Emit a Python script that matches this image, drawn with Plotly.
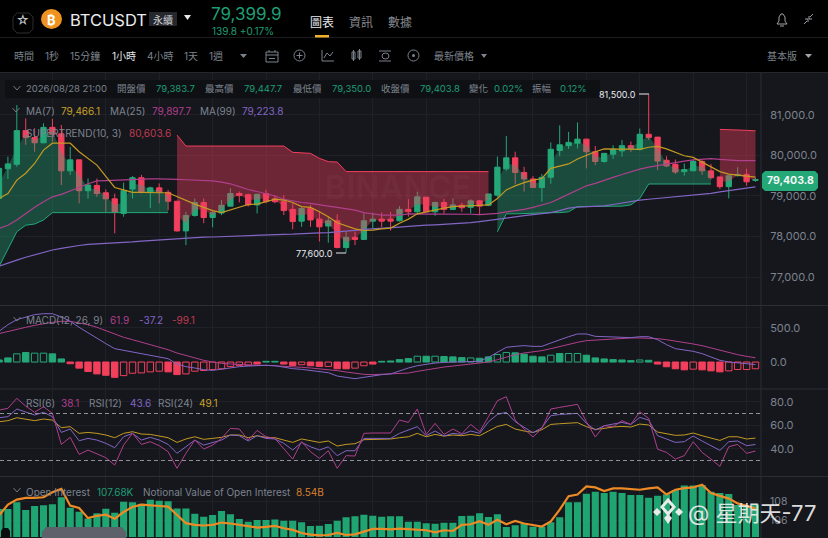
import plotly.graph_objects as go

W, H = 828, 538
# ---------- candles (1h BTCUSDT) ----------
opens = [78940,79670,79780,80610,80440,80310,80690,80530,79620,79890,79130,79260,79080,78930,78570,79170,79450,79090,79200,79090,
         78870,78140,78520,78840,78470,78580,78750,79060,79030,78780,79060,78930,78860,78670,78380,78690,78430,78260,78390,77730,
         77980,77930,78380,78430,78430,78390,78670,78610,78970,78610,78840,78670,78770,78720,78880,78770,79020,79670,79940,79580,
         79420,79210,79460,80120,80240,80300,80400,80090,79850,80030,80110,80240,80150,80520,80450,79880,79780,79600,79620,79850,
         79620,79470,79230,79500,79530,79383.7]
highs = [79700,79970,81240,80910,80670,80790,80900,80750,80210,79890,79430,79430,79160,79060,79330,79490,79520,79230,79310,79150,
         78880,78610,78940,78940,78650,78900,79190,79110,79060,79060,79150,79020,79020,78820,78740,78780,78610,78490,78550,78120,
         78120,78570,78590,78590,78610,78750,78920,79100,78980,78860,78930,78940,78830,78920,78900,79050,79970,80480,80090,79720,
         79490,79540,80320,80740,80580,80810,80410,80230,80060,80250,80380,80340,80660,81500,80450,79980,79900,79800,79890,79890,
         79790,79470,79500,79710,79670,79447.7]
lows = [78900,79420,79720,80260,80090,80300,80340,79270,79520,78820,78930,78980,78610,78080,78490,78940,79060,78700,78820,78650,
        78120,77790,78490,78330,78230,78530,78740,78840,78740,78570,78820,78820,78530,78180,78240,78240,77880,77850,77710,77600,
        77790,77920,78200,78230,78150,78370,78490,78570,78610,78510,78570,78650,78610,78570,78530,78750,78980,79620,79290,79110,
        79210,78860,79300,79980,80160,80170,79680,79760,79820,79910,79970,80080,80120,80380,79640,79710,79540,79500,79620,79520,
        79410,79170,78940,79480,79250,79350.0]
closes = [79680,79790,80610,80440,80310,80690,80520,79620,79890,79130,79270,79060,78930,78600,79130,79450,79090,79200,79090,78870,
          78140,78520,78840,78470,78590,78770,79060,79010,78780,79040,78860,78860,78640,78370,78690,78410,78240,78390,77730,77980,
          77930,78390,78430,78380,78380,78670,78610,78980,78610,78840,78670,78780,78710,78880,78750,79050,79710,79940,79580,79420,
          79210,79460,80150,80260,80320,80400,80090,79850,80050,80150,80240,80170,80520,80440,79860,79740,79590,79650,79850,79620,
          79450,79230,79500,79530,79350,79403.8]
ma7 = [78940,79060,79390,79560,79800,80130,80300,80300,80300,80090,79930,79760,79480,79210,79150,79090,79090,79080,79080,79080,
       78980,78880,78800,78720,78640,78590,78660,78720,78790,78800,78860,78920,78900,78840,78740,78720,78610,78490,78340,78260,
       78190,78150,78160,78190,78210,78330,78430,78560,78610,78650,78700,78740,78750,78750,78770,78780,78940,79150,79250,79330,
       79390,79430,79680,79740,79790,79910,80010,80090,80160,80160,80150,80150,80150,80200,80220,80160,80070,79990,79950,79830,
       79710,79600,79540,79520,79500,79466.1]
ma25 = [78200,78280,78410,78570,78720,78860,78980,79040,79120,79210,79300,79370,79380,79390,79400,79410,79410,79420,79420,79420,
        79410,79400,79390,79380,79370,79340,79300,79230,79160,79110,79050,79000,78920,78880,78840,78820,78780,78750,78720,78680,
        78650,78590,78560,78530,78530,78530,78560,78560,78560,78560,78550,78550,78550,78550,78540,78550,78570,78610,78640,78670,
        78720,78780,78840,78940,79050,79160,79250,79310,79390,79460,79530,79600,79660,79710,79750,79790,79830,79860,79890,79910,
        79920,79900,79880,79870,79870,79870]
ma99 = [77270,77350,77420,77490,77550,77610,77670,77710,77750,77780,77810,77820,77830,77835,77850,77870,77890,77905,77925,77940,
        77955,77970,77980,77985,77990,78000,78010,78020,78030,78035,78040,78050,78055,78060,78065,78075,78090,78100,78115,78135,
        78155,78180,78190,78205,78220,78235,78250,78270,78280,78290,78300,78315,78330,78345,78370,78395,78425,78455,78485,78515,
        78540,78565,78590,78640,78700,78725,78735,78745,78755,78790,78830,78865,78900,78920,78940,78960,78985,79005,79025,79045,
        79065,79100,79130,79160,79190,79223.8]
supertrend = [77260,77710,78120,78280,78310,78410]+[78590]*14+[80500]+[80230]*12+[80075,80070,80050,79927,79845,79837]+[79600]*17+\
             [78120,78560,78560,78570,78570,78580,78590,78590,78610,78740,78745,78750,78750,78750,78750,78780,78940]+[79295]*8+\
             [80640,80626,80626,80617,80603.6]
# up-trend / down-trend runs of the SuperTrend: (first, last, direction)
st_runs = [(0,19,"up"),(20,55,"down"),(56,80,"up"),(81,85,"down")]

# ---------- MACD ----------
macd_hist = [30,60,120,140,130,130,120,45,-25,-90,-140,-175,-195,-225,-200,-165,-160,-145,-135,-145,-185,-175,-135,-125,-110,-100,
             -65,-50,-50,-30,10,10,-30,-50,-40,-55,-65,-65,-100,-100,-90,-55,-30,10,15,35,50,85,85,85,80,75,65,60,55,75,110,140,
             135,115,85,75,100,125,125,125,100,60,45,35,30,20,30,25,-30,-70,-100,-115,-105,-115,-130,-145,-130,-110,-110,-99.1]
macd_hollow = [2,4,5,14,15,16,17,18,21,22,23,24,25,26,27,28,34,37,40,41,47,49,53,56,57,62,64,65,72,78,82,83,84,85]
macd_dif = [451,549,622,662,696,710,710,662,598,510,426,353,270,196,172,147,123,108,83,49,-29,-69,-88,-113,-123,-103,-88,-69,-59,-49,
            -49,-54,-78,-98,-108,-127,-137,-157,-206,-225,-245,-225,-201,-186,-176,-127,-88,-54,-29,-15,-5,0,-5,0,10,69,147,216,230,
            240,230,230,279,328,372,412,412,377,368,368,363,358,372,372,328,255,196,181,157,123,74,25,0,-15,-25,-37.2]
macd_dea = [417,451,485,510,539,564,583,598,598,573,549,510,461,412,363,328,294,255,216,181,132,93,59,25,0,-20,-29,-39,-44,-49,-49,-54,
            -59,-69,-78,-88,-98,-108,-127,-147,-167,-181,-186,-181,-176,-172,-162,-137,-113,-88,-74,-59,-44,-29,-20,0,34,74,108,132,
            147,167,196,230,265,289,314,323,333,343,353,353,353,353,343,328,309,289,265,240,206,172,137,108,83,61.9]

# ---------- RSI ----------
rsi6 = [72.9,74.4,82.9,76.3,71.0,75.8,70.1,43.7,49.7,35.2,38.9,35.5,32.4,26.1,43.1,53.1,43.7,46.0,42.6,37.5,23.3,36.1,47.4,39.7,43.1,
        48.8,57.3,56.8,47.4,55.6,50.2,48.8,40.3,31.2,46.0,37.5,31.8,38.3,23.3,34.1,33.8,53.1,53.4,53.4,53.4,64.4,62.4,73.8,52.2,61.6,
        52.2,56.8,52.8,60.7,54.5,67.3,80.9,84.3,64.4,56.8,50.0,57.3,73.8,75.2,76.6,77.8,63.0,50.0,59.6,58.8,63.9,60.7,71.5,65.8,39.7,
        36.9,31.2,34.1,46.0,36.9,31.2,25.0,41.7,43.7,36.1,38.1]
rsi12 = [66.4,67.3,73.8,71.0,68.7,71.0,67.3,53.9,56.8,46.8,48.8,47.4,44.6,40.9,50.2,53.1,47.4,49.7,47.4,43.7,36.1,41.7,47.4,43.1,45.4,
         47.4,51.7,51.1,46.6,51.1,48.8,48.3,44.6,38.9,45.4,41.7,38.9,41.7,34.1,38.3,38.3,48.8,48.8,48.8,48.8,53.1,55.9,58.8,51.1,55.1,
         50.8,53.1,52.2,55.1,53.1,63.0,69.2,71.0,63.0,58.2,53.6,57.9,68.1,69.2,69.5,70.1,61.6,55.9,59.6,60.7,62.4,60.7,66.7,64.4,51.1,
         48.3,45.4,46.0,50.8,46.6,42.6,38.6,46.0,46.6,42.6,43.6]
rsi24 = [63.0,63.9,66.4,65.3,63.9,65.3,64.4,57.9,58.8,53.1,53.9,53.1,51.7,49.4,53.1,54.5,52.5,52.2,51.1,49.4,45.4,48.3,50.2,48.0,48.8,
         49.7,51.7,51.7,49.4,51.1,49.7,49.4,47.4,45.4,48.3,46.6,45.4,46.6,42.3,43.7,44.3,47.7,48.0,48.0,48.3,49.4,50.2,53.1,50.2,52.2,
         50.8,51.7,51.1,52.2,51.1,55.1,59.0,60.7,56.8,55.1,53.9,56.2,60.7,61.3,61.6,62.2,58.8,56.5,57.3,58.5,59.0,58.5,61.0,60.2,54.2,
         52.8,51.4,51.7,53.4,51.1,49.4,47.1,50.2,50.2,48.3,49.1]

# ---------- Open interest (K) and notional value (B) ----------
oi = [107.2,107.2,107.93,107.09,107.53,107.6,107.71,108.47,107.35,106.91,106.18,106.73,107.24,106.8,108.0,107.93,107.78,108.22,108.11,
      108.04,107.27,107.27,106.69,106.36,106.55,106.98,106.62,106.11,105.82,106.0,106.0,106.07,105.93,105.93,105.75,105.35,105.38,105.56,
      105.93,106.29,106.4,106.58,106.47,106.36,106.4,106.4,105.82,105.82,105.64,105.6,105.71,105.71,106.44,106.47,106.73,106.33,106.62,
      105.24,105.42,105.64,105.27,105.27,105.75,106.29,107.93,107.93,108.87,109.09,108.95,109.09,108.95,108.73,108.73,108.44,108.65,108.8,
      109.27,109.75,109.75,109.82,109.09,108.95,108.84,107.64,107.45,107.68]
notional = [8.476,8.578,8.626,8.642,8.642,8.648,8.696,8.728,8.568,8.546,8.45,8.472,8.482,8.444,8.508,8.556,8.578,8.575,8.565,8.559,8.482,
            8.402,8.386,8.38,8.386,8.408,8.399,8.386,8.373,8.36,8.367,8.376,8.354,8.338,8.309,8.293,8.287,8.29,8.309,8.29,8.296,8.322,8.348,
            8.348,8.344,8.351,8.348,8.344,8.335,8.316,8.335,8.328,8.386,8.392,8.421,8.386,8.434,8.392,8.424,8.399,8.386,8.37,8.418,8.53,8.658,
            8.674,8.751,8.741,8.706,8.732,8.732,8.725,8.719,8.732,8.741,8.674,8.719,8.735,8.741,8.767,8.687,8.661,8.635,8.59,8.562,8.54]

price_ticks = [77000,78000,79000,80000,81000]
macd_ticks = [0,500]
rsi_ticks = [40,60,80]
rsi_guides = [70,30]
oi_ticks = [106,108]

N = len(opens)
for arr in (highs,lows,closes,ma7,ma25,ma99,supertrend,macd_hist,macd_dif,macd_dea,rsi6,rsi12,rsi24,oi,notional):
    assert len(arr) == N, len(arr)
idx = list(range(N))

GREEN, RED = "#24a878", "#f23f5c"
GOLD, PINK, PURPLE = "#c49a22", "#b03f8c", "#8465c4"
GRID, BORDER, BG, GREY = "#1e2127", "#2b2e35", "#15171d", "#7d838d"

def fx(p): return p / W
def fy(p): return 1 - p / H

fig = go.Figure()
# main pane
fig.add_trace(go.Candlestick(x=idx, open=opens, high=highs, low=lows, close=closes, xaxis="x", yaxis="y",
    increasing=dict(line=dict(color=GREEN, width=1), fillcolor=GREEN),
    decreasing=dict(line=dict(color=RED, width=1), fillcolor=RED), whiskerwidth=0, hoverinfo="skip"))
for a, b, d in st_runs:
    xs = idx[a:b+1]
    mid = [(opens[i]+closes[i])/2 for i in xs]
    st = supertrend[a:b+1]
    col = GREEN if d == "up" else RED
    fill = "rgba(36,168,120,0.36)" if d == "up" else "rgba(242,63,92,0.40)"
    fig.add_trace(go.Scatter(x=xs+xs[::-1], y=st+mid[::-1], mode="lines", fill="toself", fillcolor=fill,
                             line=dict(width=0), xaxis="x", yaxis="y", hoverinfo="skip"))
    fig.add_trace(go.Scatter(x=xs, y=st, mode="lines", line=dict(color=col, width=1), xaxis="x", yaxis="y", hoverinfo="skip"))
for vals, col in ((ma99, PURPLE), (ma25, PINK), (ma7, GOLD)):
    fig.add_trace(go.Scatter(x=idx, y=vals, mode="lines", line=dict(color=col, width=1.2), xaxis="x", yaxis="y", hoverinfo="skip"))
# MACD pane
bar_col = [GREEN if v > 0 else RED for v in macd_hist]
fill_col = ["rgba(0,0,0,0)" if i in macd_hollow else bar_col[i] for i in idx]
fig.add_trace(go.Bar(x=idx, y=macd_hist, width=0.72, marker=dict(color=fill_col, line=dict(color=bar_col, width=1)),
                     xaxis="x2", yaxis="y2", hoverinfo="skip"))
for vals, col in ((macd_dea, PINK), (macd_dif, PURPLE)):
    fig.add_trace(go.Scatter(x=idx, y=vals, mode="lines", line=dict(color=col, width=1), xaxis="x2", yaxis="y2", hoverinfo="skip"))
# RSI pane
for vals, col in ((rsi24, GOLD), (rsi12, PURPLE), (rsi6, PINK)):
    fig.add_trace(go.Scatter(x=idx, y=vals, mode="lines", line=dict(color=col, width=1), xaxis="x3", yaxis="y3", hoverinfo="skip"))
# Open interest pane
fig.add_trace(go.Bar(x=idx, y=oi, width=0.8, marker=dict(color="#1fa572", line=dict(width=0)), xaxis="x4", yaxis="y4", hoverinfo="skip"))
fig.add_trace(go.Scatter(x=idx, y=notional, mode="lines", line=dict(color="#ee8a26", width=2.2), xaxis="x4", yaxis="y5", hoverinfo="skip"))

shapes, ann = [], []
def line(x0, y0, x1, y1, col=BORDER, w=1, dash=None):
    shapes.append(dict(type="line", xref="paper", yref="paper", x0=fx(x0), y0=fy(y0), x1=fx(x1), y1=fy(y1),
                       line=dict(color=col, width=w, dash=dash or "solid")))
def rect(x0, y0, x1, y1, fill=None, col=None, w=1, layer="above"):
    shapes.append(dict(type="rect", xref="paper", yref="paper", x0=fx(x0), y0=fy(y0), x1=fx(x1), y1=fy(y1),
                       fillcolor=fill or "rgba(0,0,0,0)", line=dict(color=col or "rgba(0,0,0,0)", width=w), layer=layer))
def circle(x0, y0, x1, y1, fill=None, col=None, w=1):
    shapes.append(dict(type="circle", xref="paper", yref="paper", x0=fx(x0), y0=fy(y0), x1=fx(x1), y1=fy(y1),
                       fillcolor=fill or "rgba(0,0,0,0)", line=dict(color=col or "rgba(0,0,0,0)", width=w)))
def path(pts, fill=None, col=None, w=1, close=False, layer="above"):
    d = "M " + " L ".join(f"{fx(x):.5f} {fy(y):.5f}" for x, y in pts) + (" Z" if close else "")
    shapes.append(dict(type="path", xref="paper", yref="paper", path=d, fillcolor=fill or "rgba(0,0,0,0)",
                       line=dict(color=col or "rgba(0,0,0,0)", width=w), layer=layer))
def T(x, y, s, col=GREY, size=10, anchor="left", weight=None):
    txt = f"<b>{s}</b>" if weight else s
    shift = {"left": -2, "right": 2}.get(anchor, 0)
    ann.append(dict(xref="paper", yref="paper", x=fx(x), y=fy(y), text=txt, showarrow=False, xanchor=anchor, yanchor="middle",
                    xshift=shift, font=dict(color=col, size=size), align="left"))

# header / toolbar backdrop and separators
rect(0, 0, W, 73, fill="#000000", layer="below")
line(0, 37.5, W, 37.5, col="#1c1c1e")
line(0, 72.5, W, 72.5, col="#26272b")
line(761, 73, 761, H)
line(0, 305.5, W, 305.5); line(0, 389, W, 389); line(0, 476.5, W, 476.5)

# header
path([(17,13),(29,13),(33,17),(33,29),(29,33),(17,33),(13,29),(13,17)], col="#2e2e30", close=True)
T(23, 20, "☆", "#c4c7cc", 13, "center")
circle(41, 9, 62, 29, fill="#f0921e")
T(51.5, 19.5, "₿", "#ffffff", 13, "center", True)
T(70, 20, "BTCUSDT", "#e9ebee", 16.5)
rect(149, 12, 177, 26, fill="#25272c")
T(163, 19.5, "永續", "#d4d6da", 10, "center")
path([(184,15),(191,15),(187.5,20)], fill="#e6e8ea", close=True)
T(211, 14, "79,399.9", "#1f9e74", 17)
T(212, 31, "139.8 +0.17%", "#1f9e74", 10)
T(322, 22, "圖表", "#e8eaec", 12, "center")
T(361, 22, "資訊", "#85898f", 12, "center")
T(400, 22, "數據", "#85898f", 12, "center")
rect(315, 35, 329, 37.5, fill="#efb12c")
# bell & collapse
path([(777,24),(779,21),(779,17),(781,14),(783,14),(785,17),(785,21),(787,24)], col="#9ea2a8", close=True)
path([(780,26),(784,26)], col="#9ea2a8")
path([(804,24),(807,21)], col="#9ea2a8"); path([(810,17),(813,14)], col="#9ea2a8")
path([(805,19),(808,19),(808,22)], col="#9ea2a8"); path([(809,16),(809,19),(812,19)], col="#9ea2a8")

# toolbar
T(14, 56, "時間"); T(45, 56, "1秒"); T(70, 56, "15分鐘"); T(112, 56, "1小時", "#e6e8ea")
T(147, 56, "4小時"); T(184, 56, "1天"); T(209, 56, "1週")
path([(240,54),(247,54),(243.5,58)], fill=GREY, close=True)
rect(266, 52, 278, 62, col=GREY)
path([(266,55),(278,55)], col=GREY); path([(269,50),(269,52)], col=GREY); path([(275,50),(275,52)], col=GREY)
path([(269,58.5),(275,58.5)], col=GREY)
circle(294, 50, 305, 61, col=GREY); path([(299.5,52.5),(299.5,58.5)], col=GREY); path([(296.5,55.5),(302.5,55.5)], col=GREY)
path([(322,50),(322,61),(334,61)], col=GREY); path([(324,58),(327,53),(330,56),(333,52)], col=GREY)
rect(352, 52, 355, 59, col=GREY); rect(358, 51, 361, 58, col=GREY)
path([(353.5,50),(353.5,61)], col=GREY); path([(359.5,49),(359.5,60)], col=GREY)
path([(379,51),(391,51)], col=GREY); path([(379,61),(391,61)], col=GREY); circle(382, 53, 389, 59, col=GREY)
circle(408, 50, 419, 61, col=GREY); circle(412, 54, 415, 57, fill=GREY)
T(434, 56, "最新價格")
path([(481,54),(487,54),(484,58)], fill=GREY, close=True)
T(767, 56, "基本版")
path([(805,54),(812,54),(808.5,58)], fill="#a0a4aa", close=True)

# info row
rect(5, 80, 600, 98, fill="#0e1014")
def chevron(x, y):
    path([(x-3.5, y-2),(x, y+2),(x+3.5, y-2)], col="#71767e")
chevron(17, 88); chevron(16, 110); chevron(17, 319); chevron(17, 490)
Y = 88.5
T(26, Y, "2026/08/28 21:00", size=9.5)
for x, lab, vx, val in ((117,"開盤價",156,"79,383.7"),(205,"最高價",244,"79,447.7"),(293,"最低價",332,"79,350.0"),
                        (381,"收盤價",420,"79,403.8"),(469,"變化",494,"0.02%"),(532,"振幅",560,"0.12%")):
    T(x, Y, lab, size=9.5); T(vx, Y, val, "#1f9e74", 9.5)
# indicator legends
T(26, 111, "MA(7)"); T(61, 111, "79,466.1", "#c9a227")
T(110, 111, "MA(25)"); T(152, 111, "79,897.7", PINK)
T(200, 111, "MA(99)"); T(242, 111, "79,223.8", PURPLE)
T(26, 133, "SUPERTREND(10, 3)"); T(129, 133, "80,603.6", "#c23a50")
T(26, 319.5, "MACD(12, 26, 9)"); T(110, 319.5, "61.9", PINK); T(139, 319.5, "-37.2", PURPLE); T(172, 319.5, "-99.1", "#c23a50")
T(26, 402.5, "RSI(6)"); T(61, 402.5, "38.1", PINK); T(89, 402.5, "RSI(12)"); T(130, 402.5, "43.6", PURPLE)
T(158, 402.5, "RSI(24)"); T(199, 402.5, "49.1", "#c9a227")
T(26, 491.5, "Open Interest"); T(97, 491.5, "107.68K", "#1f9e74")
T(143, 491.5, "Notional Value of Open Interest"); T(296, 491.5, "8.54B", "#d9802a")

# high / low marks
T(636, 94, "81,500.0", "#e8eaec", 9, "right"); line(639, 94, 649, 94, col="#e8eaec")
T(333, 253, "77,600.0", "#e8eaec", 9, "right"); line(336, 253, 346, 253, col="#e8eaec")

# faint watermark
T(398, 187, "BINANCE", "rgba(255,255,255,0.03)", 32, "center", True)

# last price tag
path([(765,171),(815,171),(818,174),(818,188),(815,191),(765,191),(762,188),(762,174)], fill="#25a878", close=True)
T(790, 181, "79,403.8", "#f2f6f4", 10.5, "center", True)

# guide lines in RSI pane
for g in rsi_guides:
    shapes.append(dict(type="line", xref="x3 domain", yref="y3", x0=0, x1=1, y0=g, y1=g, line=dict(color="#8f9399", width=1, dash="4px,3px")))

# scrollbar pills on OI pane
path([(46,527),(122,527),(126,532),(126,538),(42,538),(42,532)], fill="#5d616a", close=True)
path([(3,528),(8,528),(10,531),(10,538),(1,538),(1,531)], fill="#0b0c10", close=True)

# bottom-right attribution
path([(668,500),(674,507),(668,514),(662,507)], col="#e9ece9", w=3, close=True)
path([(668,514),(672,518),(668,524),(664,518)], fill="#e9ece9", close=True)
path([(657,508),(661,512),(657,516),(653,512)], fill="#e9ece9", close=True)
path([(679,508),(683,512),(679,516),(675,512)], fill="#e9ece9", close=True)
T(688, 513, "@ 星期天-77", "rgba(240,240,240,0.92)", 22)

common_x = dict(range=[0.11, 85.62], showticklabels=False, showgrid=True, gridcolor=GRID, gridwidth=1, tickmode="array",
                tickvals=list(range(0, N, 6)), zeroline=False, showline=False, ticks="", rangeslider=dict(visible=False), fixedrange=True)
def yax(dom_top, dom_bot, rng, ticks, anchor, size=11, **kw):
    return dict(domain=[fy(dom_bot), fy(dom_top)], range=rng, side="right", anchor=anchor, tickmode="array", tickvals=ticks,
                tickfont=dict(color=GREY, size=size), showgrid=True, gridcolor=GRID, gridwidth=1, zeroline=False, showline=False,
                ticks="outside", ticklen=6, tickcolor="rgba(0,0,0,0)", fixedrange=True, **kw)
xdom = [0, 761 / W]
fig.update_layout(
    width=W, height=H, margin=dict(l=0, r=0, t=0, b=0), autosize=False, showlegend=False, hovermode=False,
    paper_bgcolor=BG, plot_bgcolor=BG, barmode="overlay", bargap=0.2, boxgap=0.15,
    font=dict(family="Inter, 'Noto Sans CJK TC', sans-serif", color=GREY, size=10),
    xaxis=dict(domain=xdom, anchor="y", **common_x),
    xaxis2=dict(domain=xdom, anchor="y2", **common_x),
    xaxis3=dict(domain=xdom, anchor="y3", **common_x),
    xaxis4=dict(domain=xdom, anchor="y4", **common_x),
    yaxis=yax(73, 305, [76315, 82029], price_ticks, "x", tickformat=",.1f"),
    yaxis2=yax(306, 388, [-382, 823], macd_ticks, "x2", tickformat=".1f"),
    yaxis3=yax(390, 476, [16.8, 90], rsi_ticks, "x3", tickformat=".1f"),
    yaxis4=yax(477, 537, [104.15, 110.69], oi_ticks, "x4", size=10.5, ticksuffix="K", tickformat="d"),
    yaxis5=dict(domain=[fy(537), fy(477)], range=[8.271, 8.84], overlaying="y4", side="right", anchor="x4", visible=False, fixedrange=True),
    shapes=shapes, annotations=ann,
)
fig.write_html("out.html", config=dict(displayModeBar=False),
               post_script="document.body.style.margin='0';document.body.style.overflow='hidden';document.body.style.background='#15171d';")
